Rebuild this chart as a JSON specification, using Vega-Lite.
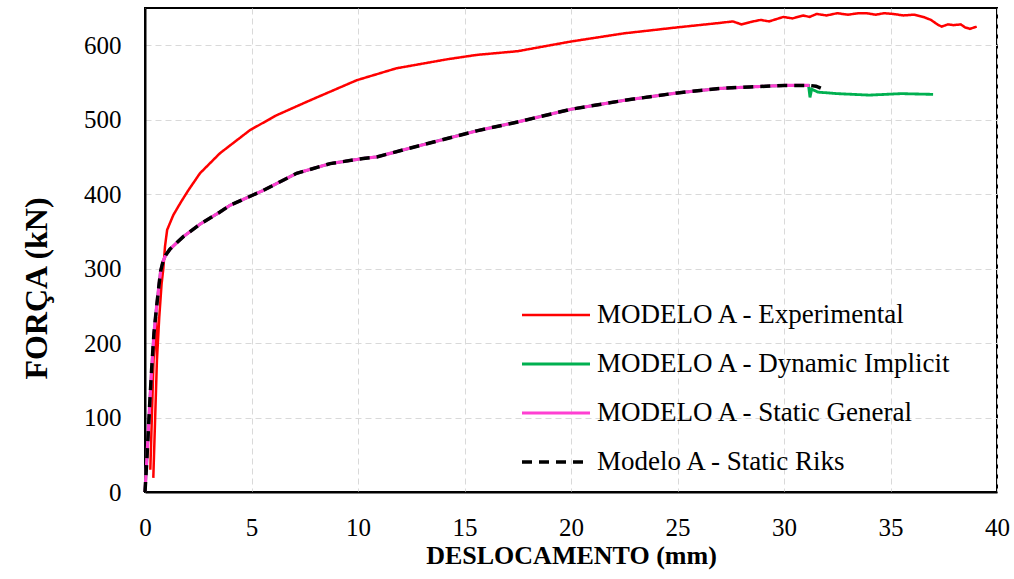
{
  "$schema": "https://vega.github.io/schema/vega-lite/v6.json",
  "width": 852,
  "height": 484,
  "autosize": {"type": "none"},
  "padding": {"left": 145, "top": 8, "right": 17, "bottom": 87},
  "background": "white",
  "config": {
    "view": {"stroke": "black", "strokeWidth": 2},
    "font": "Liberation Serif",
    "axis": {
      "domainColor": "black", "domainWidth": 2,
      "grid": true, "gridColor": "#d9d9d9", "gridDash": [6, 4], "gridWidth": 1,
      "ticks": false, "tickSize": 0,
      "labelFont": "Liberation Serif", "labelFontSize": 25, "labelColor": "black",
      "titleFont": "Liberation Serif", "titleFontWeight": "bold", "titleColor": "black"
    }
  },
  "datasets": {
    "curves": [
      {"i": 1, "serie": "MODELO A - Dynamic Implicit", "desloc": 0, "forca": 0},
      {"i": 2, "serie": "MODELO A - Dynamic Implicit", "desloc": 0.08, "forca": 40},
      {"i": 3, "serie": "MODELO A - Dynamic Implicit", "desloc": 0.23, "forca": 123},
      {"i": 4, "serie": "MODELO A - Dynamic Implicit", "desloc": 0.31, "forca": 164},
      {"i": 5, "serie": "MODELO A - Dynamic Implicit", "desloc": 0.42, "forca": 213},
      {"i": 6, "serie": "MODELO A - Dynamic Implicit", "desloc": 0.53, "forca": 245},
      {"i": 7, "serie": "MODELO A - Dynamic Implicit", "desloc": 0.63, "forca": 271},
      {"i": 8, "serie": "MODELO A - Dynamic Implicit", "desloc": 0.73, "forca": 296},
      {"i": 9, "serie": "MODELO A - Dynamic Implicit", "desloc": 0.85, "forca": 310},
      {"i": 10, "serie": "MODELO A - Dynamic Implicit", "desloc": 0.97, "forca": 318},
      {"i": 11, "serie": "MODELO A - Dynamic Implicit", "desloc": 1.17, "forca": 326},
      {"i": 12, "serie": "MODELO A - Dynamic Implicit", "desloc": 1.5, "forca": 335},
      {"i": 13, "serie": "MODELO A - Dynamic Implicit", "desloc": 1.8, "forca": 343},
      {"i": 14, "serie": "MODELO A - Dynamic Implicit", "desloc": 2.6, "forca": 360},
      {"i": 15, "serie": "MODELO A - Dynamic Implicit", "desloc": 3.52, "forca": 376},
      {"i": 16, "serie": "MODELO A - Dynamic Implicit", "desloc": 3.99, "forca": 385},
      {"i": 17, "serie": "MODELO A - Dynamic Implicit", "desloc": 5.55, "forca": 405},
      {"i": 18, "serie": "MODELO A - Dynamic Implicit", "desloc": 7.12, "forca": 428},
      {"i": 19, "serie": "MODELO A - Dynamic Implicit", "desloc": 8.69, "forca": 441},
      {"i": 20, "serie": "MODELO A - Dynamic Implicit", "desloc": 10.25, "forca": 448},
      {"i": 21, "serie": "MODELO A - Dynamic Implicit", "desloc": 10.88, "forca": 450},
      {"i": 22, "serie": "MODELO A - Dynamic Implicit", "desloc": 12.6, "forca": 463},
      {"i": 23, "serie": "MODELO A - Dynamic Implicit", "desloc": 15.57, "forca": 485},
      {"i": 24, "serie": "MODELO A - Dynamic Implicit", "desloc": 17.5, "forca": 497},
      {"i": 25, "serie": "MODELO A - Dynamic Implicit", "desloc": 20, "forca": 514},
      {"i": 26, "serie": "MODELO A - Dynamic Implicit", "desloc": 22.5, "forca": 526},
      {"i": 27, "serie": "MODELO A - Dynamic Implicit", "desloc": 25, "forca": 536},
      {"i": 28, "serie": "MODELO A - Dynamic Implicit", "desloc": 27, "forca": 542},
      {"i": 29, "serie": "MODELO A - Dynamic Implicit", "desloc": 28.4, "forca": 544},
      {"i": 30, "serie": "MODELO A - Dynamic Implicit", "desloc": 30, "forca": 546},
      {"i": 31, "serie": "MODELO A - Dynamic Implicit", "desloc": 31.15, "forca": 546},
      {"i": 32, "serie": "MODELO A - Dynamic Implicit", "desloc": 31.22, "forca": 530},
      {"i": 33, "serie": "MODELO A - Dynamic Implicit", "desloc": 31.3, "forca": 541},
      {"i": 34, "serie": "MODELO A - Dynamic Implicit", "desloc": 31.6, "forca": 537},
      {"i": 35, "serie": "MODELO A - Dynamic Implicit", "desloc": 32.5, "forca": 535},
      {"i": 36, "serie": "MODELO A - Dynamic Implicit", "desloc": 34, "forca": 533},
      {"i": 37, "serie": "MODELO A - Dynamic Implicit", "desloc": 35.5, "forca": 535},
      {"i": 38, "serie": "MODELO A - Dynamic Implicit", "desloc": 37, "forca": 534},

      {"i": 1, "serie": "MODELO A - Experimental", "desloc": 0.25, "forca": 30},
      {"i": 2, "serie": "MODELO A - Experimental", "desloc": 0.4, "forca": 177},
      {"i": 3, "serie": "MODELO A - Experimental", "desloc": 0.52, "forca": 235},
      {"i": 4, "serie": "MODELO A - Experimental", "desloc": 0.56, "forca": 177},
      {"i": 5, "serie": "MODELO A - Experimental", "desloc": 0.39, "forca": 19},
      {"i": 6, "serie": "MODELO A - Experimental", "desloc": 0.56, "forca": 177},
      {"i": 7, "serie": "MODELO A - Experimental", "desloc": 0.67, "forca": 235},
      {"i": 8, "serie": "MODELO A - Experimental", "desloc": 0.78, "forca": 280},
      {"i": 9, "serie": "MODELO A - Experimental", "desloc": 0.86, "forca": 300},
      {"i": 10, "serie": "MODELO A - Experimental", "desloc": 0.94, "forca": 330},
      {"i": 11, "serie": "MODELO A - Experimental", "desloc": 1.04, "forca": 352},
      {"i": 12, "serie": "MODELO A - Experimental", "desloc": 1.33, "forca": 372},
      {"i": 13, "serie": "MODELO A - Experimental", "desloc": 1.7, "forca": 390},
      {"i": 14, "serie": "MODELO A - Experimental", "desloc": 2.03, "forca": 405},
      {"i": 15, "serie": "MODELO A - Experimental", "desloc": 2.58, "forca": 428},
      {"i": 16, "serie": "MODELO A - Experimental", "desloc": 3.52, "forca": 455},
      {"i": 17, "serie": "MODELO A - Experimental", "desloc": 4.93, "forca": 486},
      {"i": 18, "serie": "MODELO A - Experimental", "desloc": 6.18, "forca": 506},
      {"i": 19, "serie": "MODELO A - Experimental", "desloc": 7.75, "forca": 526},
      {"i": 20, "serie": "MODELO A - Experimental", "desloc": 9.94, "forca": 553},
      {"i": 21, "serie": "MODELO A - Experimental", "desloc": 11.8, "forca": 569},
      {"i": 22, "serie": "MODELO A - Experimental", "desloc": 14.16, "forca": 581},
      {"i": 23, "serie": "MODELO A - Experimental", "desloc": 15.57, "forca": 587},
      {"i": 24, "serie": "MODELO A - Experimental", "desloc": 17.5, "forca": 592},
      {"i": 25, "serie": "MODELO A - Experimental", "desloc": 20, "forca": 605},
      {"i": 26, "serie": "MODELO A - Experimental", "desloc": 22.5, "forca": 616},
      {"i": 27, "serie": "MODELO A - Experimental", "desloc": 25, "forca": 624},
      {"i": 28, "serie": "MODELO A - Experimental", "desloc": 27, "forca": 630},
      {"i": 29, "serie": "MODELO A - Experimental", "desloc": 27.6, "forca": 632},
      {"i": 30, "serie": "MODELO A - Experimental", "desloc": 28.0, "forca": 628},
      {"i": 31, "serie": "MODELO A - Experimental", "desloc": 28.4, "forca": 631},
      {"i": 32, "serie": "MODELO A - Experimental", "desloc": 28.9, "forca": 634},
      {"i": 33, "serie": "MODELO A - Experimental", "desloc": 29.3, "forca": 632},
      {"i": 34, "serie": "MODELO A - Experimental", "desloc": 29.97, "forca": 638},
      {"i": 35, "serie": "MODELO A - Experimental", "desloc": 30.4, "forca": 636},
      {"i": 36, "serie": "MODELO A - Experimental", "desloc": 30.9, "forca": 640},
      {"i": 37, "serie": "MODELO A - Experimental", "desloc": 31.2, "forca": 638},
      {"i": 38, "serie": "MODELO A - Experimental", "desloc": 31.53, "forca": 642},
      {"i": 39, "serie": "MODELO A - Experimental", "desloc": 32.0, "forca": 640},
      {"i": 40, "serie": "MODELO A - Experimental", "desloc": 32.5, "forca": 643},
      {"i": 41, "serie": "MODELO A - Experimental", "desloc": 33.0, "forca": 641},
      {"i": 42, "serie": "MODELO A - Experimental", "desloc": 33.5, "forca": 643},
      {"i": 43, "serie": "MODELO A - Experimental", "desloc": 33.88, "forca": 643},
      {"i": 44, "serie": "MODELO A - Experimental", "desloc": 34.3, "forca": 641},
      {"i": 45, "serie": "MODELO A - Experimental", "desloc": 34.7, "forca": 643},
      {"i": 46, "serie": "MODELO A - Experimental", "desloc": 35.13, "forca": 642},
      {"i": 47, "serie": "MODELO A - Experimental", "desloc": 35.6, "forca": 640},
      {"i": 48, "serie": "MODELO A - Experimental", "desloc": 36.1, "forca": 641},
      {"i": 49, "serie": "MODELO A - Experimental", "desloc": 36.54, "forca": 638},
      {"i": 50, "serie": "MODELO A - Experimental", "desloc": 36.9, "forca": 634},
      {"i": 51, "serie": "MODELO A - Experimental", "desloc": 37.2, "forca": 628},
      {"i": 52, "serie": "MODELO A - Experimental", "desloc": 37.4, "forca": 625},
      {"i": 53, "serie": "MODELO A - Experimental", "desloc": 37.7, "forca": 628},
      {"i": 54, "serie": "MODELO A - Experimental", "desloc": 37.95, "forca": 627},
      {"i": 55, "serie": "MODELO A - Experimental", "desloc": 38.3, "forca": 628},
      {"i": 56, "serie": "MODELO A - Experimental", "desloc": 38.5, "forca": 624},
      {"i": 57, "serie": "MODELO A - Experimental", "desloc": 38.73, "forca": 622},
      {"i": 58, "serie": "MODELO A - Experimental", "desloc": 39.05, "forca": 625},

      {"i": 1, "serie": "MODELO A - Static General", "desloc": 0, "forca": 0},
      {"i": 2, "serie": "MODELO A - Static General", "desloc": 0.08, "forca": 40},
      {"i": 3, "serie": "MODELO A - Static General", "desloc": 0.23, "forca": 123},
      {"i": 4, "serie": "MODELO A - Static General", "desloc": 0.31, "forca": 164},
      {"i": 5, "serie": "MODELO A - Static General", "desloc": 0.42, "forca": 213},
      {"i": 6, "serie": "MODELO A - Static General", "desloc": 0.53, "forca": 245},
      {"i": 7, "serie": "MODELO A - Static General", "desloc": 0.63, "forca": 271},
      {"i": 8, "serie": "MODELO A - Static General", "desloc": 0.73, "forca": 296},
      {"i": 9, "serie": "MODELO A - Static General", "desloc": 0.85, "forca": 310},
      {"i": 10, "serie": "MODELO A - Static General", "desloc": 0.97, "forca": 318},
      {"i": 11, "serie": "MODELO A - Static General", "desloc": 1.17, "forca": 326},
      {"i": 12, "serie": "MODELO A - Static General", "desloc": 1.5, "forca": 335},
      {"i": 13, "serie": "MODELO A - Static General", "desloc": 1.8, "forca": 343},
      {"i": 14, "serie": "MODELO A - Static General", "desloc": 2.6, "forca": 360},
      {"i": 15, "serie": "MODELO A - Static General", "desloc": 3.52, "forca": 376},
      {"i": 16, "serie": "MODELO A - Static General", "desloc": 3.99, "forca": 385},
      {"i": 17, "serie": "MODELO A - Static General", "desloc": 5.55, "forca": 405},
      {"i": 18, "serie": "MODELO A - Static General", "desloc": 7.12, "forca": 428},
      {"i": 19, "serie": "MODELO A - Static General", "desloc": 8.69, "forca": 441},
      {"i": 20, "serie": "MODELO A - Static General", "desloc": 10.25, "forca": 448},
      {"i": 21, "serie": "MODELO A - Static General", "desloc": 10.88, "forca": 450},
      {"i": 22, "serie": "MODELO A - Static General", "desloc": 12.6, "forca": 463},
      {"i": 23, "serie": "MODELO A - Static General", "desloc": 15.57, "forca": 485},
      {"i": 24, "serie": "MODELO A - Static General", "desloc": 17.5, "forca": 497},
      {"i": 25, "serie": "MODELO A - Static General", "desloc": 20, "forca": 514},
      {"i": 26, "serie": "MODELO A - Static General", "desloc": 22.5, "forca": 526},
      {"i": 27, "serie": "MODELO A - Static General", "desloc": 25, "forca": 536},
      {"i": 28, "serie": "MODELO A - Static General", "desloc": 27, "forca": 542},
      {"i": 29, "serie": "MODELO A - Static General", "desloc": 28.4, "forca": 544},
      {"i": 30, "serie": "MODELO A - Static General", "desloc": 30, "forca": 546},
      {"i": 31, "serie": "MODELO A - Static General", "desloc": 31.2, "forca": 546},

      {"i": 1, "serie": "Modelo A - Static Riks", "desloc": 0, "forca": 0},
      {"i": 2, "serie": "Modelo A - Static Riks", "desloc": 0.08, "forca": 40},
      {"i": 3, "serie": "Modelo A - Static Riks", "desloc": 0.23, "forca": 123},
      {"i": 4, "serie": "Modelo A - Static Riks", "desloc": 0.31, "forca": 164},
      {"i": 5, "serie": "Modelo A - Static Riks", "desloc": 0.42, "forca": 213},
      {"i": 6, "serie": "Modelo A - Static Riks", "desloc": 0.53, "forca": 245},
      {"i": 7, "serie": "Modelo A - Static Riks", "desloc": 0.63, "forca": 271},
      {"i": 8, "serie": "Modelo A - Static Riks", "desloc": 0.73, "forca": 296},
      {"i": 9, "serie": "Modelo A - Static Riks", "desloc": 0.85, "forca": 310},
      {"i": 10, "serie": "Modelo A - Static Riks", "desloc": 0.97, "forca": 318},
      {"i": 11, "serie": "Modelo A - Static Riks", "desloc": 1.17, "forca": 326},
      {"i": 12, "serie": "Modelo A - Static Riks", "desloc": 1.5, "forca": 335},
      {"i": 13, "serie": "Modelo A - Static Riks", "desloc": 1.8, "forca": 343},
      {"i": 14, "serie": "Modelo A - Static Riks", "desloc": 2.6, "forca": 360},
      {"i": 15, "serie": "Modelo A - Static Riks", "desloc": 3.52, "forca": 376},
      {"i": 16, "serie": "Modelo A - Static Riks", "desloc": 3.99, "forca": 385},
      {"i": 17, "serie": "Modelo A - Static Riks", "desloc": 5.55, "forca": 405},
      {"i": 18, "serie": "Modelo A - Static Riks", "desloc": 7.12, "forca": 428},
      {"i": 19, "serie": "Modelo A - Static Riks", "desloc": 8.69, "forca": 441},
      {"i": 20, "serie": "Modelo A - Static Riks", "desloc": 10.25, "forca": 448},
      {"i": 21, "serie": "Modelo A - Static Riks", "desloc": 10.88, "forca": 450},
      {"i": 22, "serie": "Modelo A - Static Riks", "desloc": 12.6, "forca": 463},
      {"i": 23, "serie": "Modelo A - Static Riks", "desloc": 15.57, "forca": 485},
      {"i": 24, "serie": "Modelo A - Static Riks", "desloc": 17.5, "forca": 497},
      {"i": 25, "serie": "Modelo A - Static Riks", "desloc": 20, "forca": 514},
      {"i": 26, "serie": "Modelo A - Static Riks", "desloc": 22.5, "forca": 526},
      {"i": 27, "serie": "Modelo A - Static Riks", "desloc": 25, "forca": 536},
      {"i": 28, "serie": "Modelo A - Static Riks", "desloc": 27, "forca": 542},
      {"i": 29, "serie": "Modelo A - Static Riks", "desloc": 28.4, "forca": 544},
      {"i": 30, "serie": "Modelo A - Static Riks", "desloc": 30, "forca": 546},
      {"i": 31, "serie": "Modelo A - Static Riks", "desloc": 31.2, "forca": 546},
      {"i": 32, "serie": "Modelo A - Static Riks", "desloc": 31.5, "forca": 545},
      {"i": 33, "serie": "Modelo A - Static Riks", "desloc": 31.75, "forca": 542}
    ]
  },
  "data": {"name": "curves"},
  "encoding": {
    "x": {
      "field": "desloc", "type": "quantitative",
      "scale": {"domain": [0, 40], "nice": false, "zero": false},
      "axis": {
        "values": [0, 5, 10, 15, 20, 25, 30, 35, 40],
        "title": "DESLOCAMENTO (mm)", "titleFontSize": 26,
        "labelBaseline": "alphabetic", "labelPadding": 43, "labelFlush": false,
        "titleY": 71, "titleBaseline": "alphabetic"
      }
    },
    "y": {
      "field": "forca", "type": "quantitative",
      "scale": {"domain": [0, 650], "nice": false},
      "axis": {
        "values": [0, 100, 200, 300, 400, 500, 600],
        "title": "FORÇA (kN)", "titleFontSize": 32,
        "labelPadding": 24, "labelFlush": false,
        "titleX": -109, "titleY": 280, "titleAngle": -90,
        "titleAlign": "center", "titleBaseline": "middle"
      }
    },
    "order": {"field": "i", "type": "quantitative"},
    "color": {
      "field": "serie", "type": "nominal",
      "scale": {
        "domain": ["MODELO A - Experimental", "MODELO A - Dynamic Implicit", "MODELO A - Static General", "Modelo A - Static Riks"],
        "range": ["#ff0000", "#00b050", "#ff3fd2", "#000000"]
      },
      "legend": {
        "title": null, "orient": "none", "legendX": 375, "legendY": 294,
        "symbolType": "stroke", "symbolSize": 4624, "clipHeight": 26,
        "rowPadding": 22, "labelFontSize": 27, "labelFont": "Liberation Serif",
        "labelColor": "black", "labelOffset": 5, "padding": 0, "labelLimit": 0
      }
    },
    "strokeDash": {
      "field": "serie", "type": "nominal",
      "scale": {
        "domain": ["MODELO A - Experimental", "MODELO A - Dynamic Implicit", "MODELO A - Static General", "Modelo A - Static Riks"],
        "range": [[1, 0], [1, 0], [1, 0], [10, 7]]
      },
      "legend": null
    },
    "strokeWidth": {
      "field": "serie", "type": "nominal",
      "scale": {
        "domain": ["MODELO A - Experimental", "MODELO A - Dynamic Implicit", "MODELO A - Static General", "Modelo A - Static Riks"],
        "range": [2.5, 3.5, 4, 4]
      },
      "legend": null
    }
  },
  "layer": [
    {"transform": [{"filter": "datum.serie === 'MODELO A - Dynamic Implicit'"}], "mark": {"type": "line"}},
    {"transform": [{"filter": "datum.serie === 'MODELO A - Experimental'"}], "mark": {"type": "line"}},
    {"transform": [{"filter": "datum.serie === 'MODELO A - Static General'"}], "mark": {"type": "line"}},
    {"transform": [{"filter": "datum.serie === 'Modelo A - Static Riks'"}], "mark": {"type": "line"}}
  ]
}
